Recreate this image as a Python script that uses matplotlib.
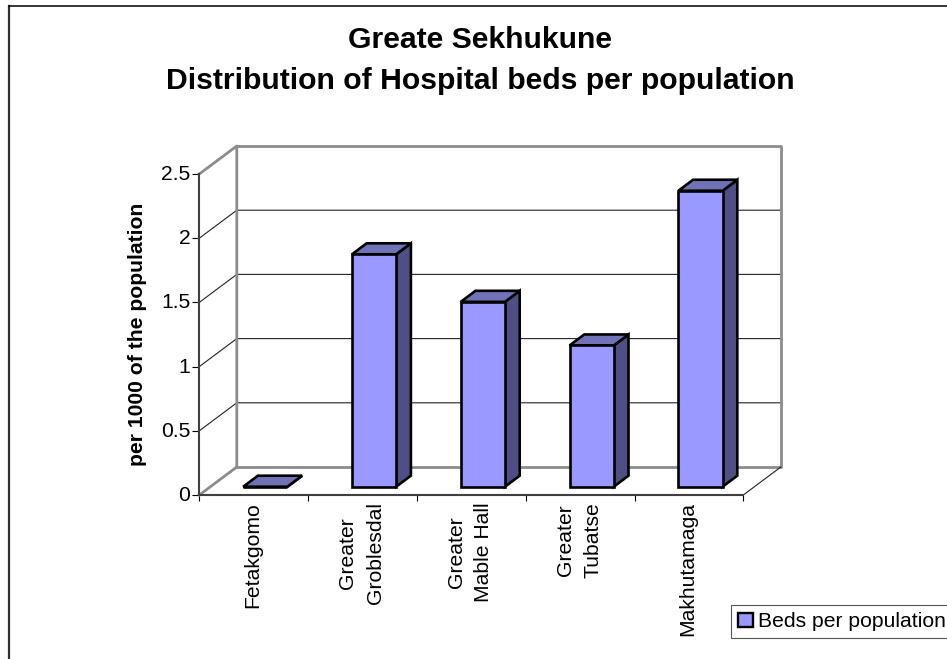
import matplotlib
matplotlib.use("Agg")
import matplotlib.pyplot as plt
from matplotlib.patches import Patch, Polygon
from matplotlib.lines import Line2D
from matplotlib.transforms import Affine2D

plt.rcParams['font.family'] = ['Liberation Sans', 'DejaVu Sans']

categories = ['Fetakgomo', 'Greater\nGroblesdal', 'Greater\nMable Hall', 'Greater\nTubatse', 'Makhutamaga']
beds = [0.0, 1.81, 1.44, 1.10, 2.305]
yticks = [0, 0.5, 1, 1.5, 2, 2.5]
yticklabels = ['0', '0.5', '1', '1.5', '2', '2.5']
title = 'Greate Sekhukune\nDistribution of Hospital beds per population'
ylabel = 'per 1000 of the population'
series = 'Beds per population'

W, H = 947, 659
FS = 15.2
fig = plt.figure(figsize=(W / 100, H / 100), dpi=100, facecolor='white')
L, R, T, B = 199.3, 743.3, 174.0, 495.0
ax = fig.add_axes([L / W, 1 - B / H, (R - L) / W, (B - T) / H])
ax.set_xlim(0, len(categories))
ax.set_ylim(0, 2.5)
ax.patch.set_alpha(0)
sx, sy = (R - L) / len(categories), (B - T) / 2.5

# depth of the 3-D box and of the bars, in data units
wx, wy = 37.5 / sx, 28.0 / sy
ox, oy = 11.6 / sx, 8.3 / sy
dx, dy = 14.7 / sx, 11.0 / sy
bw = 44.2 / sx
n = len(categories)
GREY, DARK = '#8c8c8c', '#404040'


def line(xs, ys, c, lw, z=1):
    ax.add_line(Line2D(xs, ys, color=c, lw=lw, clip_on=False, zorder=z, solid_capstyle='projecting'))


# gridlines on the back and side walls
for t in yticks[1:-1]:
    line([0, wx, n + wx], [t, t + wy, t + wy], '#222222', 0.8)
# walls and floor
line([0, wx, wx], [2.5, 2.5 + wy, wy], GREY, 2.0, 2)
line([wx, n + wx, n + wx, wx], [2.5 + wy, 2.5 + wy, wy, wy], GREY, 2.0, 2)
line([0, wx], [0, wy], GREY, 2.0, 2)
line([n, n + wx], [0, wy], '#222222', 0.8, 2)

# bars with depth
for i, v in enumerate(beds):
    x0 = i + 0.5 - bw / 2 + ox
    x1 = x0 + bw
    y0, y1 = oy, v + oy
    kw = dict(ec='black', lw=1.9, joinstyle='miter', clip_on=False, zorder=5)
    ax.add_patch(Polygon([(x1, y0), (x1 + dx, y0 + dy), (x1 + dx, y1 + dy), (x1, y1)], fc='#4F4F85', **kw))
    ax.add_patch(Polygon([(x0, y1), (x0 + dx, y1 + dy), (x1 + dx, y1 + dy), (x1, y1)], fc='#7272B8', **kw))
    ax.bar(i + 0.5 + ox, v, bw, bottom=oy, color='#9999FF', ec='black', lw=1.9, clip_on=False, zorder=6)

# axes
for s in ('top', 'right'):
    ax.spines[s].set_visible(False)
for s in ('left', 'bottom'):
    ax.spines[s].set_color(DARK)
    ax.spines[s].set_linewidth(1.5)
    ax.spines[s].set_zorder(7)
ax.set_yticks(yticks, yticklabels, fontsize=FS)
ax.tick_params(axis='y', length=5, width=0.8, color='black', pad=1.5)
for lab in ax.get_yticklabels():
    lab.set_transform(lab.get_transform() + Affine2D().translate(0, 1.5))
ax.set_xticks(range(n + 1), [''] * (n + 1))
ax.tick_params(axis='x', length=4.5, width=0.8, color='black')
for i, c in enumerate(categories):
    ax.text(i + 0.5, 0, c, rotation=90, ha='center', va='top', multialignment='center',
            fontsize=FS, linespacing=1.55, clip_on=False,
            transform=ax.get_xaxis_transform() + Affine2D().translate(-1, -7))
fig.text(137 / W, 1 - 334 / H, ylabel, rotation=90, ha='center', va='center', fontsize=FS, fontweight='bold')
fig.text(480 / W, 1 - 60.5 / H, title, ha='center', va='center', fontsize=21.7, fontweight='bold', linespacing=1.6)

# outer chart frame (right and bottom edges lie outside the picture)
fig.add_artist(Line2D([8.5 / W, 8.5 / W], [0, 1 - 6 / H], color='#303030', lw=1.6))
fig.add_artist(Line2D([8.5 / W, 1], [1 - 6 / H, 1 - 6 / H], color='black', lw=1.1))

leg = fig.legend(handles=[Patch(fc='#9999FF', ec='black', lw=1.7, label=series)], loc='lower left',
                 bbox_to_anchor=(731 / W, 1 - 638 / H), bbox_transform=fig.transFigure, fontsize=FS,
                 fancybox=False, framealpha=1, edgecolor='#555555', borderaxespad=0, borderpad=0.33,
                 handlelength=0.7, handleheight=0.65, handletextpad=0.25)
leg.get_frame().set_linewidth(0.8)

fig.savefig('out.png', dpi=100)
